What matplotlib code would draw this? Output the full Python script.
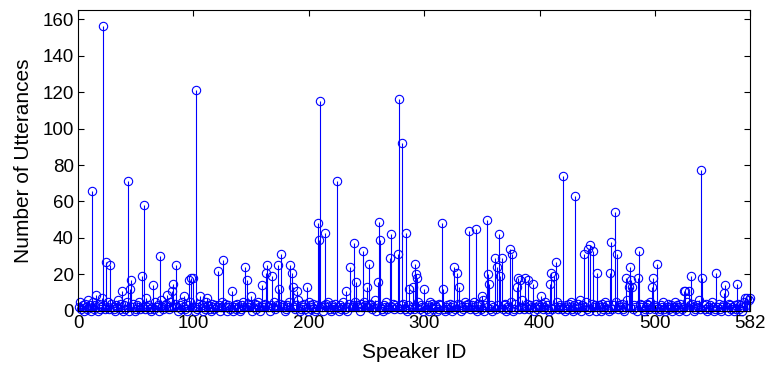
import matplotlib
matplotlib.use("Agg")
import matplotlib.pyplot as plt
import numpy as np

plt.rcParams["font.family"] = ["Liberation Sans", "DejaVu Sans"]

# background counts for speakers 1..582 (the dense band near zero)
small_counts = [
    2, 5, 1, 3, 0, 4, 2, 1, 6, 3, 0, 2, 5, 1, 3, 2, 0, 4, 1, 2, 7, 3, 1, 0, 2, 5, 1, 3, 4, 2,
    1, 0, 3, 2, 6, 1, 4, 2, 0, 3, 1, 5, 2, 0, 3, 1, 2, 4, 0, 1, 3, 2, 5, 1, 0, 2, 3, 1, 4, 2,
    3, 1, 0, 2, 4, 1, 5, 2, 3, 0, 1, 6, 2, 1, 3, 4, 0, 2, 1, 5, 3, 0, 2, 4, 1, 2, 0, 3, 1, 5,
    2, 4, 1, 0, 3, 2, 5, 1, 2, 6, 0, 3, 1, 2, 4, 1, 3, 0, 2, 1, 5, 2, 3, 1, 0, 4, 2, 1, 3, 2,
    1, 3, 0, 2, 5, 1, 4, 2, 0, 3, 2, 1, 6, 0, 2, 3, 1, 4, 2, 0, 1, 3, 5, 2, 1, 0, 4, 2, 3, 1,
    0, 2, 4, 1, 3, 5, 2, 0, 1, 3, 2, 4, 1, 6, 2, 0, 3, 1, 2, 5, 1, 3, 0, 2, 4, 1, 2, 3, 0, 1,
    3, 2, 5, 1, 0, 4, 2, 1, 3, 2, 6, 0, 1, 3, 2, 4, 1, 2, 0, 5, 3, 1, 2, 4, 0, 1, 3, 2, 5, 1,
    2, 0, 3, 1, 4, 2, 5, 1, 0, 3, 2, 1, 4, 6, 2, 0, 3, 1, 2, 5, 1, 3, 0, 2, 4, 1, 2, 3, 0, 5,
    1, 3, 2, 0, 4, 2, 1, 5, 3, 0, 2, 1, 4, 3, 1, 2, 6, 0, 3, 1, 2, 4, 1, 0, 3, 2, 5, 1, 2, 3,
    0, 2, 4, 1, 3, 2, 5, 0, 1, 3, 2, 4, 1, 2, 0, 3, 6, 1, 2, 4, 1, 3, 0, 2, 5, 1, 3, 2, 0, 4,
    2, 1, 3, 0, 5, 2, 4, 1, 3, 2, 0, 1, 4, 3, 2, 5, 1, 0, 2, 3, 1, 4, 2, 0, 3, 6, 1, 2, 4, 1,
    3, 0, 2, 1, 5, 3, 2, 4, 0, 1, 3, 2, 5, 1, 2, 0, 4, 3, 1, 2, 6, 0, 3, 1, 2, 4, 1, 3, 0, 2,
    4, 1, 2, 3, 0, 5, 2, 1, 3, 4, 0, 2, 1, 3, 5, 2, 0, 1, 4, 2, 3, 1, 0, 2, 6, 1, 3, 2, 4, 0,
    1, 3, 2, 5, 0, 2, 4, 1, 3, 2, 0, 4, 1, 2, 5, 3, 1, 0, 2, 4, 1, 3, 2, 0, 5, 1, 2, 3, 1, 4,
    2, 0, 3, 1, 4, 2, 5, 1, 0, 3, 2, 1, 4, 2, 6, 0, 3, 1, 2, 5, 1, 3, 0, 2, 4, 1, 2, 3, 0, 1,
    3, 2, 0, 4, 1, 2, 5, 3, 1, 0, 2, 4, 1, 3, 2, 5, 0, 1, 3, 2, 4, 1, 0, 2, 3, 6, 1, 2, 4, 0,
    1, 3, 2, 0, 5, 1, 4, 2, 3, 0, 1, 2, 4, 3, 1, 5, 2, 0, 3, 1, 2, 4, 0, 1, 3, 2, 5, 1, 0, 2,
    4, 1, 2, 3, 0, 2, 5, 1, 3, 2, 0, 4, 1, 2, 3, 1, 0, 5, 2, 3, 1, 4, 2, 0, 1, 3, 2, 6, 1, 0,
    2, 3, 1, 4, 0, 2, 1, 3, 5, 2, 0, 1, 3, 2, 4, 1, 0, 2, 3, 5, 1, 2, 0, 4, 3, 1, 2, 0, 3, 1,
    2, 4, 1, 3, 0, 2, 5, 1, 3, 2, 6, 4,
]

# speakers with larger utterance counts
peak_ids = [
    12, 16, 22, 24, 28, 38, 43, 45, 46, 55, 57, 59, 65, 71, 77, 81, 82, 85, 92, 96,
    98, 100, 102, 106, 112, 121, 126, 133, 145, 146, 150, 159, 163, 164, 168, 173, 174, 176, 184, 185,
    186, 190, 198, 208, 209, 210, 214, 224, 232, 236, 239, 241, 247, 250, 252, 260, 261, 262, 270, 271,
    277, 278, 281, 284, 287, 290, 292, 293, 294, 300, 315, 316, 326, 328, 330, 339, 345, 350, 354, 355,
    356, 361, 363, 365, 366, 367, 374, 376, 380, 381, 383, 387, 390, 394, 401, 409, 410, 412, 414, 420,
    431, 438, 442, 444, 446, 450, 461, 462, 465, 467, 475, 477, 478, 479, 480, 485, 486, 497, 498, 502,
    525, 526, 529, 531, 540, 541, 553, 560, 561, 571, 578, 580, 582,
]
peak_counts = [
    66, 9, 156, 27, 25, 11, 71, 12, 17, 19, 58, 7, 14, 30, 9, 11, 15, 25, 8, 17,
    18, 18, 121, 8, 7, 22, 28, 11, 24, 17, 8, 14, 21, 25, 19, 25, 12, 31, 25, 21,
    13, 11, 13, 48, 39, 115, 43, 71, 11, 24, 37, 16, 33, 13, 26, 16, 49, 39, 29, 42,
    31, 116, 92, 43, 12, 13, 26, 20, 18, 12, 48, 12, 24, 21, 13, 44, 45, 8, 50, 20,
    15, 29, 24, 42, 19, 29, 34, 31, 13, 18, 17, 18, 17, 15, 8, 15, 21, 19, 27, 74,
    63, 31, 34, 36, 33, 21, 21, 38, 54, 31, 18, 13, 24, 17, 13, 18, 33, 13, 18, 26,
    11, 11, 11, 19, 77, 18, 21, 10, 14, 15, 7, 7, 7,
]

speaker_ids = np.arange(1, len(small_counts) + 1)
counts = np.array(small_counts, dtype=float)
counts[np.array(peak_ids) - 1] = peak_counts

x_ticks = [0, 100, 200, 300, 400, 500, 582]
y_ticks = [0, 20, 40, 60, 80, 100, 120, 140, 160]

fig = plt.figure(figsize=(7.65, 3.68), dpi=100)
ax = fig.add_axes([0.102, 0.155, 0.878, 0.818])

markerline, stemlines, baseline = ax.stem(speaker_ids, counts, linefmt="b-",
                                          markerfmt="bo", basefmt=" ")
plt.setp(stemlines, linewidth=0.8, color="#0000ff")
plt.setp(markerline, markerfacecolor="none", markeredgecolor="#0000ff",
         markersize=6, markeredgewidth=0.8, clip_on=False, zorder=3)

ax.set_xlim(0, 582)
ax.set_ylim(0, 165)
ax.set_xticks(x_ticks)
ax.set_yticks(y_ticks)
ax.tick_params(direction="in", top=True, right=True, length=4, width=0.8,
               labelsize=13.5, pad=3)
for s in ax.spines.values():
    s.set_linewidth(0.8)
    s.set_zorder(4)

ax.set_xlabel("Speaker ID", fontsize=15, labelpad=8)
ax.set_ylabel("Number of Utterances", fontsize=15, labelpad=7)

fig.savefig("out.png", dpi=100)
